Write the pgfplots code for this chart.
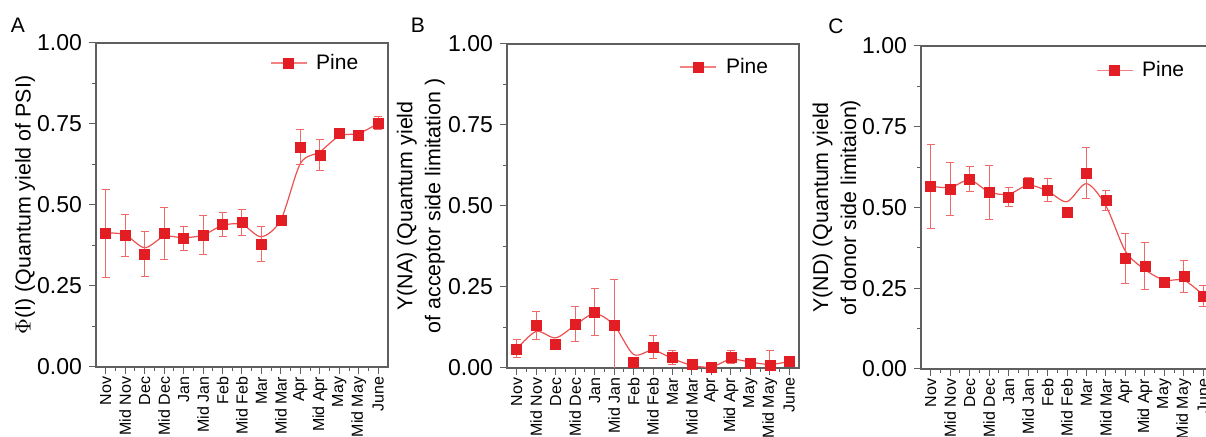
\documentclass[border=0pt]{standalone}
\usepackage{fontspec}
\setmainfont{Liberation Sans}
\usepackage{pgfplots}
\pgfplotsset{compat=1.18}
\definecolor{mred}{RGB}{226,30,36}
\definecolor{lred}{RGB}{236,80,80}
\definecolor{ered}{RGB}{240,105,105}
\definecolor{legred}{RGB}{242,130,130}
\definecolor{axgray}{RGB}{95,95,95}

\pgfplotsset{
  panel/.style={
    scale only axis, width=146pt, height=162pt,
    xmin=-0.5, xmax=14.5, ymin=0, ymax=1,
    xtick={0,...,14},
    xticklabels={Nov, Mid Nov, Dec, Mid Dec, Jan, Mid Jan, Feb, Mid Feb, Mar, Mid Mar, Apr, Mid Apr, May, Mid May, June},
    minor x tick num=1,
    ytick={0,0.25,0.5,0.75,1},
    minor y tick num=1,
    /pgf/number format/assume math mode=true,
    yticklabel style={/pgf/number format/fixed, /pgf/number format/fixed zerofill, /pgf/number format/precision=2},
    tick align=outside,
    xtick pos=left, ytick pos=left,
    major tick length=3.5pt, minor tick length=2pt,
    axis line style={axgray, line width=0.6pt},
    every tick/.style={axgray, line width=0.5pt},
    yticklabel style={font=\fontsize{11.5}{13}\selectfont, black},
    xticklabel style={rotate=90, anchor=east, inner sep=1.2pt, font=\fontsize{8}{9}\selectfont, black},
    ylabel style={font=\fontsize{10.7}{14}\selectfont, align=center, anchor=center},
    legend style={draw=none, fill=none, inner sep=0pt, outer sep=0pt, anchor=west,
      font=\fontsize{10.5}{12}\selectfont, nodes={inner sep=0pt}, column sep=4.5pt},
    legend image code/.code={\draw[legred, line width=0.6pt] (0pt,0pt) -- (18pt,0pt);
      \fill[mred] (6.5pt,-2.5pt) rectangle (11.5pt,2.5pt);},
  },
  fitline/.style={lred, line width=0.6pt, smooth, no marks, forget plot},
  pts/.style={only marks, mark=square*, mark size=2.5pt, mark options={draw=mred, fill=mred, line width=0.3pt},
    error bars/.cd, y dir=both, y explicit,
    error bar style={ered, line width=0.5pt},
    error mark options={ered, rotate=90, mark size=2pt, line width=0.5pt}},
}

\begin{document}
\begin{tikzpicture}
\path[use as bounding box] (0pt,0pt) rectangle (603pt,218.5pt);
\clip (0pt,0pt) rectangle (603pt,218.5pt);

\node[font=\fontsize{10.5}{12}\selectfont] at (9pt,206pt) {A};
\node[font=\fontsize{10.5}{12}\selectfont] at (209pt,206pt) {B};
\node[font=\fontsize{10.5}{12}\selectfont] at (418pt,205.5pt) {C};

% Panel A
\begin{axis}[panel, at={(48pt,35pt)}, anchor=south west,
  ylabel={$\Phi$(I) (Quantum yield of PSI)},
  ylabel style={at={(axis description cs:-0.243,0.5)}},
  legend style={at={(0.596,0.938)}}]
\addplot[fitline] coordinates {(0,0.414) (1,0.408) (2,0.368) (3,0.403) (4,0.399) (5,0.407) (6,0.437) (7,0.440) (8,0.402) (9,0.455) (10,0.628) (11,0.664) (12,0.713) (13,0.721) (14,0.752)};
\addplot[pts] coordinates {
 (0,0.412) +- (0,0.135)
 (1,0.406) +- (0,0.066)
 (2,0.348) +- (0,0.070)
 (3,0.412) +- (0,0.080)
 (4,0.398) +- (0,0.037)
 (5,0.407) +- (0,0.060)
 (6,0.440) +- (0,0.038)
 (7,0.447) +- (0,0.040)
 (8,0.380) +- (0,0.055)
 (9,0.454) +- (0,0.015)
 (10,0.678) +- (0,0.054)
 (11,0.654) +- (0,0.049)
 (12,0.720) +- (0,0.005)
 (13,0.715) +- (0,0.010)
 (14,0.753) +- (0,0.020)
};
\addlegendentry{Pine}
\end{axis}

% Panel B
\begin{axis}[panel, at={(253.5pt,34.5pt)}, anchor=south west,
  ylabel={Y(NA) (Quantum yield\\of acceptor side limitation )},
  ylabel style={at={(axis description cs:-0.295,0.5)}},
  legend style={at={(0.592,0.929)}}]
\addplot[fitline] coordinates {(0,0.059) (1,0.113) (2,0.093) (3,0.132) (4,0.168) (5,0.132) (6,0.042) (7,0.055) (8,0.029) (9,0.008) (10,0.003) (11,0.027) (12,0.018) (13,0.011) (14,0.020)};
\addplot[pts] coordinates {
 (0,0.059) +- (0,0.028)
 (1,0.132) +- (0,0.043)
 (2,0.074) +- (0,0.003)
 (3,0.135) +- (0,0.054)
 (4,0.173) +- (0,0.072)
 (5,0.132) +- (0,0.141)
 (6,0.019) +- (0,0.003)
 (7,0.064) +- (0,0.036)
 (8,0.032) +- (0,0.021)
 (9,0.011) +- (0,0.004)
 (10,0.001) +- (0,0.002)
 (11,0.034) +- (0,0.021)
 (12,0.015) +- (0,0.006)
 (13,0.008) +- (0,0.045)
 (14,0.020) +- (0,0.003)
};
\addlegendentry{Pine}
\end{axis}

% Panel C
\begin{axis}[panel, at={(460.5pt,34pt)}, anchor=south west, height=161.5pt,
  ylabel={Y(ND) (Quantum yield\\of donor side limitaion)},
  ylabel style={at={(axis description cs:-0.289,0.5)}},
  legend style={at={(0.599,0.923)}}]
\addplot[fitline] coordinates {(0,0.566) (1,0.562) (2,0.585) (3,0.548) (4,0.541) (5,0.569) (6,0.551) (7,0.518) (8,0.574) (9,0.505) (10,0.365) (11,0.308) (12,0.275) (13,0.275) (14,0.229)};
\addplot[pts] coordinates {
 (0,0.566) +- (0,0.130)
 (1,0.556) +- (0,0.082)
 (2,0.588) +- (0,0.038)
 (3,0.547) +- (0,0.084)
 (4,0.533) +- (0,0.030)
 (5,0.576) +- (0,0.018)
 (6,0.553) +- (0,0.036)
 (7,0.485) +- (0,0.003)
 (8,0.607) +- (0,0.080)
 (9,0.522) +- (0,0.032)
 (10,0.342) +- (0,0.077)
 (11,0.319) +- (0,0.074)
 (12,0.267) +- (0,0.016)
 (13,0.286) +- (0,0.050)
 (14,0.226) +- (0,0.031)
};
\addlegendentry{Pine}
\end{axis}
\end{tikzpicture}
\end{document}
